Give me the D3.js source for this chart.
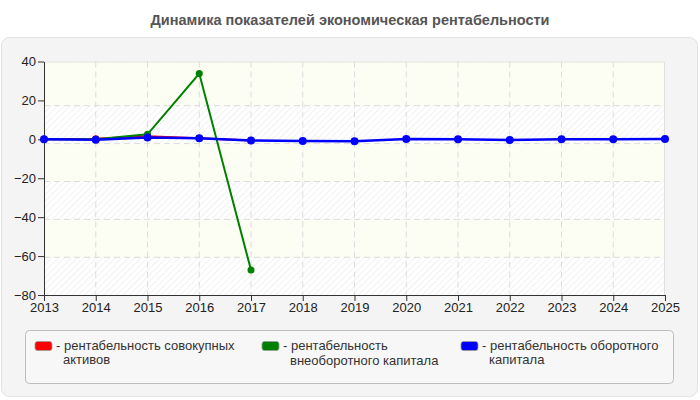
<!DOCTYPE html>
<html>
<head>
<meta charset="utf-8">
<script src="https://cdn.jsdelivr.net/npm/d3@7"></script>
<style>
  body { margin: 0; background: #fff; }
  svg text { font-family: "Liberation Sans", Arial, sans-serif; }
</style>
</head>
<body>
<div id="chart"></div>
<script>
// Chart data
var years = [2013, 2014, 2015, 2016, 2017, 2018, 2019, 2020, 2021, 2022, 2023, 2024, 2025];
var yTicks = [40, 20, 0, -20, -40, -60, -80];

var totalAssets = [0, 0.3, 1.6, 0.6, -0.6];           // 2013-2017
var fixedCapital = [0, 0, 2.6, 33.8, -67.2];          // 2013-2017
var workingCapital = [0, -0.2, 1, 0.5, -0.6, -0.8, -1, 0.2, 0.1, -0.3, 0.1, 0.1, 0.2];

var seriesColors = ["#ff0000", "#008000", "#0000ff"];

// SVG dimensions
var svgWidth = 700;
var svgHeight = 400;

var margin = { top: 61.5, right: 35, bottom: 105, left: 44 };
var chartWidth = svgWidth - margin.left - margin.right;
var chartHeight = svgHeight - margin.top - margin.bottom;

var svg = d3.select("#chart")
  .append("svg")
  .attr("width", svgWidth)
  .attr("height", svgHeight);

// outer panel
svg.append("rect")
  .attr("x", 1.5).attr("y", 37.5)
  .attr("width", 696).attr("height", 359)
  .attr("rx", 8)
  .attr("fill", "#f4f4f4")
  .attr("stroke", "#e2e2e2");

// title
svg.append("text")
  .attr("x", svgWidth / 2)
  .attr("y", 25)
  .attr("text-anchor", "middle")
  .attr("font-size", "14.5px")
  .attr("font-weight", "bold")
  .attr("fill", "#555")
  .text("Динамика показателей экономическая рентабельности");

// hatch pattern
var defs = svg.append("defs");
var pattern = defs.append("pattern")
  .attr("id", "hatch")
  .attr("patternUnits", "userSpaceOnUse")
  .attr("width", 4.5).attr("height", 4.5)
  .attr("patternTransform", "rotate(45)");
pattern.append("rect").attr("width", 4.5).attr("height", 4.5).attr("fill", "#ffffff");
pattern.append("line")
  .attr("x1", 0).attr("y1", 0).attr("x2", 0).attr("y2", 4.5)
  .attr("stroke", "#ebebeb").attr("stroke-width", 1.3);

var chartGroup = svg.append("g")
  .attr("transform", `translate(${margin.left}, ${margin.top})`);

// scales
var xScale = d3.scaleLinear()
  .domain([2013, 2025])
  .range([0, chartWidth]);

var yScale = d3.scaleLinear()
  .domain([-80, 40])
  .range([chartHeight, 0]);

// the original draws its grid slightly off the ticks
var gridScale = d3.scaleLinear()
  .domain([-80, 40])
  .range([chartHeight + 0.2, 6.3]);

// background
chartGroup.append("rect")
  .attr("width", chartWidth)
  .attr("height", chartHeight)
  .attr("fill", "url(#hatch)");

// alternating cream bands
var bandStarts = yTicks.slice(0, -1).filter(function(d, i) { return i % 2 === 0; });
chartGroup.selectAll(".band")
  .data(bandStarts)
  .enter()
  .append("rect")
  .attr("x", 0)
  .attr("y", d => d === 40 ? yScale(d) : gridScale(d))
  .attr("width", chartWidth)
  .attr("height", d => gridScale(d - 20) - (d === 40 ? yScale(d) : gridScale(d)))
  .attr("fill", "#fcfdf2")
  .attr("opacity", 0.9);

// grid lines
chartGroup.selectAll(".hgrid")
  .data(yTicks.slice(1, -1))
  .enter()
  .append("line")
  .attr("x1", 0).attr("x2", chartWidth)
  .attr("y1", d => gridScale(d)).attr("y2", d => gridScale(d))
  .attr("stroke", "#dcdcdc")
  .attr("stroke-dasharray", "6,4");

chartGroup.selectAll(".vgrid")
  .data(years.slice(1, -1))
  .enter()
  .append("line")
  .attr("x1", d => xScale(d)).attr("x2", d => xScale(d))
  .attr("y1", 0).attr("y2", chartHeight)
  .attr("stroke", "#dcdcdc")
  .attr("stroke-dasharray", "6,4");

// plot border top/right
chartGroup.append("path")
  .attr("d", `M0,0.5H${chartWidth - 0.5}V${chartHeight}`)
  .attr("fill", "none")
  .attr("stroke", "#e0e0e0");

// axes
var leftAxis = d3.axisLeft(yScale).tickValues(yTicks).tickSize(6).tickSizeOuter(0);
var bottomAxis = d3.axisBottom(xScale).tickValues(years).tickFormat(d3.format("d")).tickSize(6).tickSizeOuter(0);

var yAxisG = chartGroup.append("g").call(leftAxis);
var xAxisG = chartGroup.append("g")
  .attr("transform", "translate(0, " + chartHeight + ")")
  .call(bottomAxis);

[yAxisG, xAxisG].forEach(function(g) {
  g.select(".domain").attr("stroke", "#333");
  g.selectAll(".tick line").attr("stroke", "#333");
  g.selectAll(".tick text")
    .attr("font-size", "13px")
    .attr("fill", "#222")
    .attr("font-family", "Liberation Sans, Arial, sans-serif");
});
yAxisG.selectAll(".tick text").attr("x", -8);
xAxisG.selectAll(".tick text").attr("y", 8);

// lines
var drawLine = d3.line()
  .x((d, i) => xScale(years[i]))
  .y(d => yScale(d));

var allSeries = [
  { values: totalAssets, width: 2, r: 3.5 },
  { values: fixedCapital, width: 2, r: 3.5 },
  { values: workingCapital, width: 2.5, r: 4 }
];

allSeries.forEach(function(s, k) {
  chartGroup.append("path")
    .attr("d", drawLine(s.values))
    .attr("fill", "none")
    .attr("stroke", seriesColors[k])
    .attr("stroke-width", s.width);

  chartGroup.selectAll(".dot" + k)
    .data(s.values)
    .enter()
    .append("circle")
    .attr("cx", (d, i) => xScale(years[i]))
    .attr("cy", d => yScale(d))
    .attr("r", s.r)
    .attr("fill", seriesColors[k]);
});

// legend
svg.append("rect")
  .attr("x", 25.5).attr("y", 330.5)
  .attr("width", 648).attr("height", 53)
  .attr("rx", 4)
  .attr("fill", "#f7f7f7")
  .attr("stroke", "#bdbdbd");

var legendItems = [
  { x: 35, lines: ["- рентабельность совокупных", "активов"], gap: 14 },
  { x: 262, lines: ["- рентабельность", "внеоборотного капитала"], gap: 15.5 },
  { x: 461, lines: ["- рентабельность оборотного", "капитала"], gap: 14 }
];

legendItems.forEach(function(item, k) {
  svg.append("rect")
    .attr("x", item.x).attr("y", 341.5)
    .attr("width", 17).attr("height", 9)
    .attr("rx", 2.5)
    .attr("fill", seriesColors[k])
    .attr("stroke", "#999")
    .attr("stroke-width", 0.8);

  var t = svg.append("text")
    .attr("x", item.x + 21).attr("y", 349.5)
    .attr("font-size", "13px").attr("fill", "#333");
  item.lines.forEach(function(line, j) {
    t.append("tspan")
      .attr("x", j === 0 ? item.x + 21 : item.x + 28)
      .attr("dy", j === 0 ? 0 : item.gap)
      .text(line);
  });
});
</script>
</body>
</html>
